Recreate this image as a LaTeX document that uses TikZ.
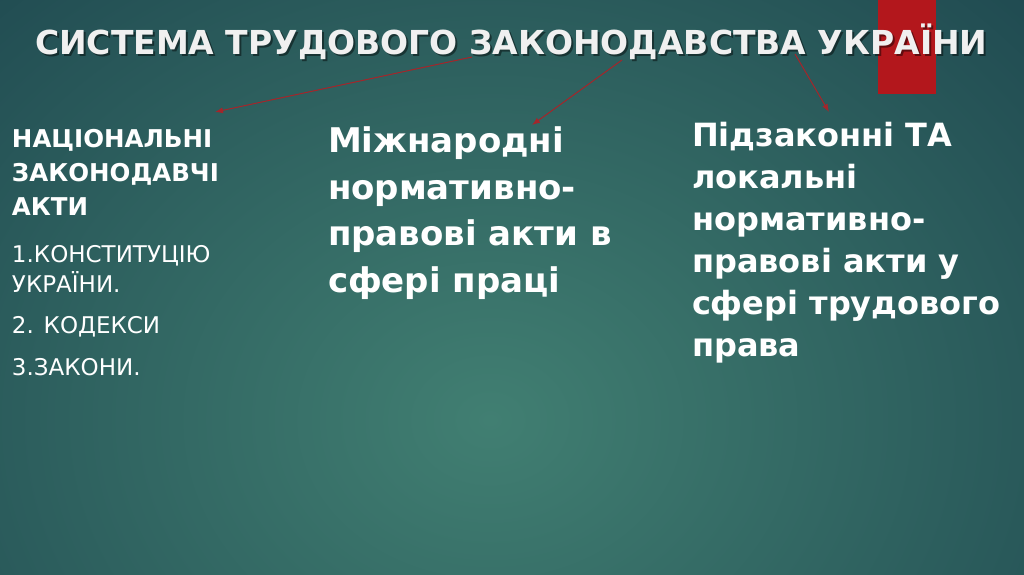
\documentclass[tikz,border=0pt]{standalone}
\usepackage{fontspec}
\setmainfont{DejaVu Sans}
\usepackage{tikz}
\usetikzlibrary{positioning,calc,arrows.meta}

\definecolor{bgdark}{HTML}{153946}
\definecolor{bglight}{HTML}{417F72}
\definecolor{barred}{HTML}{B3171C}
\definecolor{arrowred}{HTML}{A3262B}
\definecolor{titlegrey}{HTML}{F0F0F0}

\begin{document}
\begin{tikzpicture}[
      x=1pt, y=-1pt,
      every node/.style={inner sep=0pt, outer sep=0pt, text=white},
      titletext/.style={font=\fontsize{33}{40}\selectfont\bfseries, text=titlegrey, anchor=base west},
      titleshadow/.style={titletext, text=black, opacity=0.45},
      headtext/.style={font=\fontsize{24.5}{34}\selectfont\bfseries, align=left, anchor=base west},
      listtext/.style={font=\fontsize{23}{30}\selectfont, align=left, anchor=base west},
      bigtext/.style={font=\fontsize{34}{46.5}\selectfont\bfseries, align=left, anchor=base west},
      arrowline/.style={draw=arrowred, fill=arrowred, line width=1pt, -{Latex[length=8pt,width=6pt]}},
      ]
      % background
      \useasboundingbox (0,0) rectangle (1024,574);
      \begin{scope}
        \clip (0,0) rectangle (1024,574);
        \fill[bgdark] (0,0) rectangle (1024,574);
        \shade[inner color=bglight, outer color=bgdark] (490,420) ellipse [x radius=1000pt, y radius=820pt];
      \end{scope}
      \fill[barred] (878,0) rectangle (936,94);
      % title
      \node[titleshadow] at (37,56) {СИСТЕМА ТРУДОВОГО ЗАКОНОДАВСТВА УКРАЇНИ};
      \node[titletext] (sysTitle) at (35,54) {СИСТЕМА ТРУДОВОГО ЗАКОНОДАВСТВА УКРАЇНИ};
      % columns (anchored at the baseline of their last line)
      \node[headtext] (sysNational) at (12,215) {НАЦІОНАЛЬНІ\\ЗАКОНОДАВЧІ\\АКТИ};
      \node[listtext] (sysList) at (12,375) {1.КОНСТИТУЦІЮ\\УКРАЇНИ.\\[11pt]2. КОДЕКСИ\\[12pt]3.ЗАКОНИ.};
      \node[bigtext] (sysIntl) at (328,292) {Міжнародні\\нормативно-\\правові акти в\\сфері праці};
      \node[bigtext, font=\fontsize{32}{42}\selectfont\bfseries] (sysBylaw) at (692,356)
        {Підзаконні ТА\\локальні\\нормативно-\\правові акти у\\сфері трудового\\права};
      % arrows
      \coordinate (sysArrowA) at (472,57);
      \coordinate (sysArrowB) at (622,60);
      \coordinate (sysArrowC) at (795,54);
      \coordinate (sysEndA) at (215,112);
      \coordinate (sysEndB) at (532,125);
      \coordinate (sysEndC) at (829,112);
      \draw[arrowline] (sysArrowA) -- (sysEndA);
      \draw[arrowline] (sysArrowB) -- (sysEndB);
      \draw[arrowline] (sysArrowC) -- (sysEndC);
    \end{tikzpicture}
\end{document}
